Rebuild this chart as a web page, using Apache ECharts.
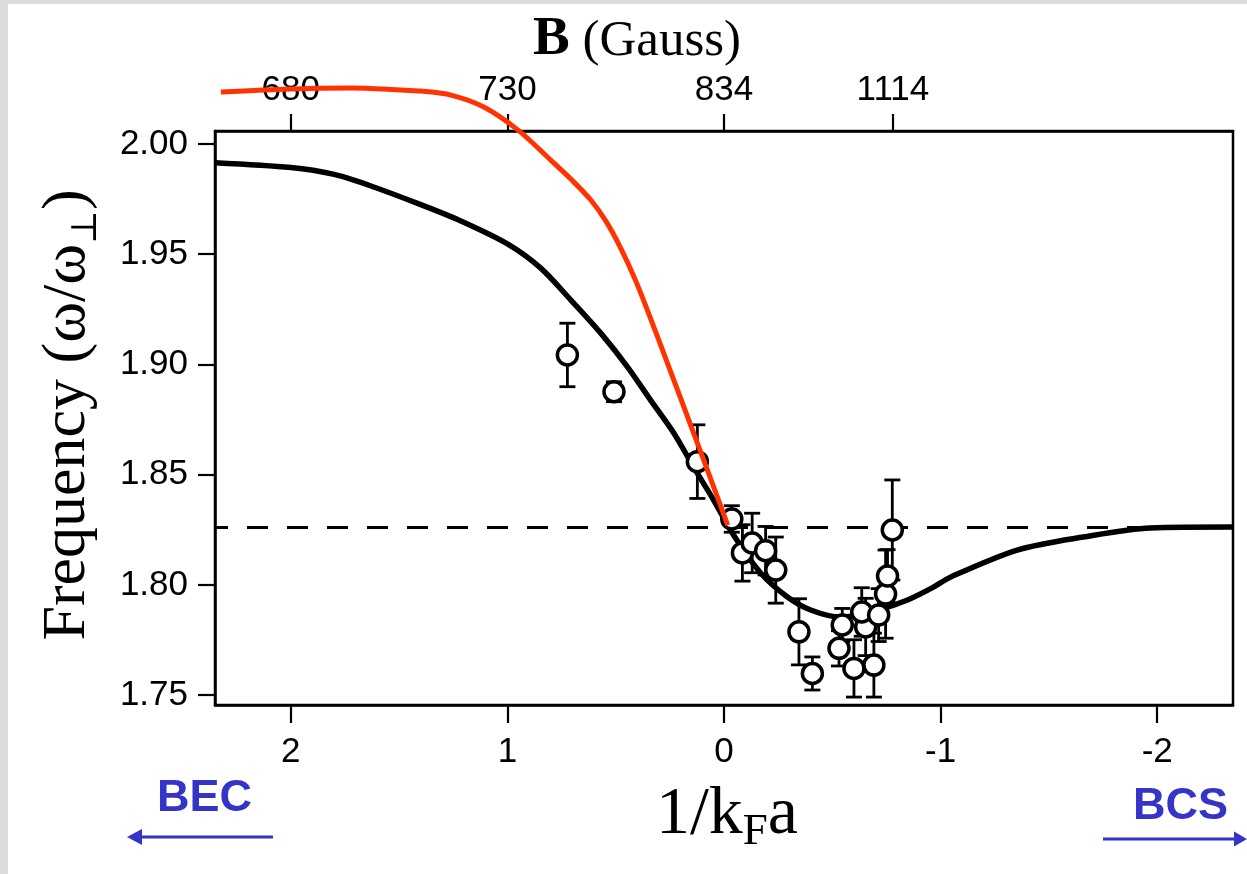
<!DOCTYPE html>
<html>
<head>
<meta charset="utf-8">
<title>Frequency vs 1/kFa</title>
<script src="https://cdn.jsdelivr.net/npm/echarts@6/dist/echarts.min.js"></script>
<style>
  html, body { margin: 0; padding: 0; background: #ffffff; }
  #chart { width: 1247px; height: 874px; }
</style>
</head>
<body>
<div id="chart"></div>
<script>
// ---- axis ticks ----
const bottomTicks = [2, 1, 0, -1, -2];
const leftTicks = [1.75, 1.80, 1.85, 1.90, 1.95, 2.00];
const fieldTickPos = [2, 1, 0, -0.78];
const fieldTickLabels = ['680', '730', '834', '1114'];

// ---- theory curve (black) ----
const theoryX = [2.35, 2.0, 1.80, 1.643, 1.40, 1.215, 0.998, 0.846, 0.707, 0.569, 0.445, 0.339, 0.232, 0.140, 0.048,
  -0.044, -0.169, -0.293, -0.400, -0.538, -0.662, -0.755, -0.847, -0.967, -1.045, -1.354, -1.659, -1.968, -2.35];
const theoryY = [1.9915, 1.9893, 1.9862, 1.9814, 1.9725, 1.9651, 1.9546, 1.9437, 1.9292, 1.9142, 1.8988, 1.8838, 1.8689, 1.8534, 1.8385,
  1.8226, 1.8054, 1.7945, 1.7886, 1.7854, 1.7872, 1.7899, 1.7931, 1.7990, 1.8035, 1.8158, 1.8217, 1.8258, 1.8262];

// ---- alternative curve (red) ----
const redX = [2.323, 2.0, 1.723, 1.492, 1.40, 1.261, 1.109, 0.952, 0.800, 0.707, 0.615, 0.546, 0.477, 0.407, 0.338,
  0.246, 0.154, 0.061, -0.017];
const redY = [2.0236, 2.0250, 2.0254, 2.0245, 2.0240, 2.0222, 2.0168, 2.0064, 1.9927, 1.9841, 1.9746, 1.9651, 1.9528, 1.9378, 1.9206,
  1.8966, 1.8725, 1.8480, 1.8271];

// ---- BCS limit (dashed) ----
const limitX = [2.35, -2.35];
const limitY = 1.826;

// ---- measurements ----
const ptX = [0.723, 0.508, 0.123, -0.036, -0.085, -0.13, -0.192, -0.239, -0.346, -0.408,
  -0.546, -0.531, -0.600, -0.692, -0.654, -0.636, -0.714, -0.746, -0.755, -0.777];
const ptY = [1.9043, 1.8876, 1.8559, 1.8299, 1.8145, 1.8190, 1.8155, 1.8067, 1.7787, 1.7598,
  1.7818, 1.7712, 1.7621, 1.7636, 1.7809, 1.7877, 1.7863, 1.7958, 1.8040, 1.8249];
const ptErr = [0.0144, 0.0045, 0.0167, 0.006, 0.0128, 0.0135, 0.011, 0.015, 0.015, 0.0075,
  0.0075, 0.008, 0.013, 0.0145, 0.013, 0.011, 0.012, 0.020, 0.012, 0.0227];

const theoryData = theoryX.map((x, i) => [x, theoryY[i]]);
const redData = redX.map((x, i) => [x, redY[i]]);
const limitData = limitX.map(x => [x, limitY]);
const pointData = ptX.map((x, i) => [x, ptY[i]]);
const errData = ptX.map((x, i) => [x, ptY[i] - ptErr[i], ptY[i] + ptErr[i]]);

const sansFont = "'Liberation Sans', Arial, Helvetica, sans-serif";
const serifFont = "'Liberation Serif', 'Times New Roman', 'DejaVu Serif', serif";
const blue = '#3434c8';

const tickLabel = {
  fontFamily: sansFont,
  fontSize: 35,
  color: '#000'
};

const chart = echarts.init(document.getElementById('chart'), null, { renderer: 'canvas' });

chart.setOption({
  animation: false,
  backgroundColor: '#ffffff',
  grid: {
    left: 215, right: 14, top: 131, bottom: 169,
    show: true, borderColor: '#000', borderWidth: 2.5, backgroundColor: 'transparent'
  },
  xAxis: [
    {
      type: 'value', min: -2.35, max: 2.35, inverse: true, position: 'bottom',
      axisLine: { show: true, onZero: false, lineStyle: { color: '#000', width: 2.5 } },
      axisTick: { show: true, inside: false, length: 18, customValues: bottomTicks, lineStyle: { color: '#000', width: 2.2 } },
      axisLabel: Object.assign({ margin: 30, customValues: bottomTicks, formatter: v => String(Math.round(v)) }, tickLabel),
      splitLine: { show: false }
    },
    {
      type: 'value', min: -2.35, max: 2.35, inverse: true, position: 'top',
      axisLine: { show: true, onZero: false, lineStyle: { color: '#000', width: 2.5 } },
      axisTick: { show: true, inside: false, length: 17, customValues: fieldTickPos, lineStyle: { color: '#000', width: 2.2 } },
      axisLabel: Object.assign({
        margin: 23, customValues: fieldTickPos,
        formatter: v => {
          let best = 0;
          fieldTickPos.forEach((p, i) => { if (Math.abs(p - v) < Math.abs(fieldTickPos[best] - v)) best = i; });
          return fieldTickLabels[best];
        }
      }, tickLabel),
      splitLine: { show: false }
    }
  ],
  yAxis: {
    type: 'value', min: 1.7455, max: 2.0059,
    axisLine: { show: true, onZero: false, lineStyle: { color: '#000', width: 2.5 } },
    axisTick: { show: true, inside: false, length: 17, customValues: leftTicks, lineStyle: { color: '#000', width: 2.2 } },
    axisLabel: Object.assign({ margin: 27, customValues: leftTicks, formatter: v => v.toFixed(2) }, tickLabel),
    splitLine: { show: false }
  },
  series: [
    {
      name: 'BCS limit', type: 'line', data: limitData, symbol: 'none', z: 2,
      lineStyle: { color: '#000', width: 3, type: [21, 19], dashOffset: 8 }
    },
    {
      name: 'theory', type: 'line', data: theoryData, symbol: 'none', smooth: 0.3, z: 3,
      lineStyle: { color: '#000', width: 5.5 }
    },
    {
      name: 'error', type: 'custom', data: errData, z: 4,
      encode: { x: 0, y: [1, 2] },
      renderItem: (params, api) => {
        const x = api.value(0);
        const lo = api.coord([x, api.value(1)]);
        const hi = api.coord([x, api.value(2)]);
        const w = 8;
        const st = { stroke: '#000', lineWidth: 2.8 };
        return {
          type: 'group',
          children: [
            { type: 'line', shape: { x1: hi[0], y1: hi[1], x2: lo[0], y2: lo[1] }, style: st },
            { type: 'line', shape: { x1: hi[0] - w, y1: hi[1], x2: hi[0] + w, y2: hi[1] }, style: st },
            { type: 'line', shape: { x1: lo[0] - w, y1: lo[1], x2: lo[0] + w, y2: lo[1] }, style: st }
          ]
        };
      }
    },
    {
      name: 'data', type: 'scatter', data: pointData, z: 5,
      symbol: 'circle', symbolSize: 20,
      itemStyle: { color: '#ffffff', borderColor: '#000', borderWidth: 3.5, opacity: 1 }
    },
    {
      name: 'red', type: 'line', data: redData, symbol: 'none', smooth: 0.3, clip: false, z: 6,
      lineStyle: { color: '#ff3300', width: 5 }
    }
  ],
  graphic: [
    { type: 'rect', shape: { x: 0, y: 0, width: 8, height: 874 }, style: { fill: '#dcdcdc' }, z: -10, silent: true },
    { type: 'rect', shape: { x: 0, y: 0, width: 1247, height: 4 }, style: { fill: '#dcdcdc' }, z: -10, silent: true },
    {
      type: 'text', x: 533, y: 40, z: 10,
      style: {
        text: '{b|B} {n|(Gauss)}', align: 'left', verticalAlign: 'middle', fill: '#000',
        fontFamily: serifFont, fontSize: 51,
        rich: {
          b: { fontFamily: serifFont, fontSize: 55, fontWeight: 'bold', fill: '#000', lineHeight: 55, verticalAlign: 'bottom' },
          n: { fontFamily: serifFont, fontSize: 51, fill: '#000', lineHeight: 51, verticalAlign: 'bottom' }
        }
      }
    },
    {
      type: 'text', x: 727, y: 815, z: 10,
      style: {
        text: '{m|1/k}{s|F}{m|a}', align: 'center', verticalAlign: 'middle', fill: '#000',
        fontFamily: serifFont, fontSize: 68,
        rich: {
          m: { fontFamily: serifFont, fontSize: 68, lineHeight: 80, verticalAlign: 'middle', fill: '#000' },
          s: { fontFamily: serifFont, fontSize: 45, lineHeight: 24, verticalAlign: 'bottom', fill: '#000' }
        }
      }
    },
    {
      type: 'text', x: 68, y: 415, rotation: Math.PI / 2, z: 10,
      style: {
        text: '{m|Frequency (ω/ω}{s|⊥}{m|)}', align: 'center', verticalAlign: 'middle', fill: '#000',
        fontFamily: serifFont, fontSize: 62,
        rich: {
          m: { fontFamily: serifFont, fontSize: 62, lineHeight: 74, verticalAlign: 'middle', fill: '#000' },
          s: { fontFamily: serifFont, fontSize: 36, lineHeight: 48, verticalAlign: 'bottom', fill: '#000' }
        }
      }
    },
    {
      type: 'text', x: 157, y: 799, z: 10,
      style: { text: 'BEC', align: 'left', verticalAlign: 'middle', fill: blue, fontFamily: sansFont, fontSize: 45, fontWeight: 'bold' }
    },
    {
      type: 'text', x: 1133, y: 807, z: 10,
      style: { text: 'BCS', align: 'left', verticalAlign: 'middle', fill: blue, fontFamily: sansFont, fontSize: 45, fontWeight: 'bold' }
    },
    { type: 'line', shape: { x1: 138, y1: 837, x2: 273, y2: 837 }, style: { stroke: blue, lineWidth: 3 }, z: 10 },
    { type: 'polygon', shape: { points: [[127, 837], [142, 829], [142, 845]] }, style: { fill: blue }, z: 10 },
    { type: 'line', shape: { x1: 1103, y1: 839, x2: 1236, y2: 839 }, style: { stroke: blue, lineWidth: 3 }, z: 10 },
    { type: 'polygon', shape: { points: [[1247, 839], [1234, 831.5], [1234, 846.5]] }, style: { fill: blue }, z: 10 }
  ]
});
</script>
</body>
</html>
